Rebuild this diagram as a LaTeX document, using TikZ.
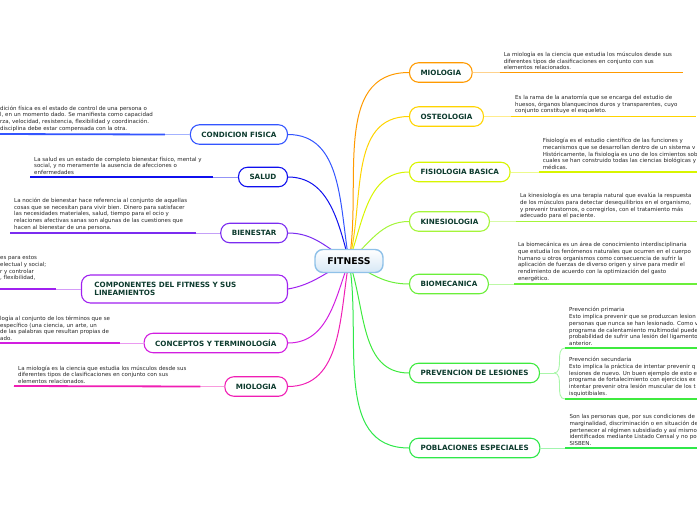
\documentclass[tikz,border=0pt]{standalone}
\usepackage{fontspec}
\setmainfont{DejaVu Sans}
\usetikzlibrary{backgrounds}
\definecolor{titlegreen}{HTML}{0D3B2E}
\definecolor{txtgrey}{HTML}{262626}
\definecolor{fitborder}{HTML}{8FC1E8}
\definecolor{fitfill}{HTML}{D6E7F5}
\definecolor{cfc}{HTML}{3355FF}
\definecolor{salc}{HTML}{1010EE}
\definecolor{bienc}{HTML}{7B2CF0}
\definecolor{compc}{HTML}{A020F0}
\definecolor{concc}{HTML}{D21EE0}
\definecolor{miolc}{HTML}{F01EB4}
\definecolor{mrc}{HTML}{FF9A00}
\definecolor{ostc}{HTML}{FFD400}
\definecolor{fisc}{HTML}{D8F500}
\definecolor{kinc}{HTML}{A5F53A}
\definecolor{bioc}{HTML}{6BEF3A}
\definecolor{prevc}{HTML}{3FEA3F}
\definecolor{pobc}{HTML}{2FE84A}

\begin{document}
\begin{tikzpicture}[x=1pt, y=-1pt,
  box/.style={draw=#1, line width=1.1pt, fill=white, rounded corners=9pt,
    minimum height=19.5pt, inner xsep=11pt, inner ysep=3pt,
    text=titlegreen, font=\bfseries\fontsize{7.2}{8.6}\selectfont},
  desc/.style={anchor=south west, align=left, inner xsep=4pt, inner ysep=2.3pt,
    text=txtgrey, font=\fontsize{5.5}{6.7}\selectfont},
  ul/.style={draw=#1, line width=1.8pt},
  lnk/.style={draw=#1!45, line width=0.9pt},
  br/.style={draw=#1, line width=1pt}]
  \useasboundingbox (0,0) rectangle (697,520);

  % centre
  \node[draw=fitborder, line width=1.4pt, rounded corners=8pt, top color=white,
    bottom color=fitfill, minimum width=68pt, minimum height=23pt,
    font=\bfseries\fontsize{9.3}{11}\selectfont] (fit) at (349,261) {FITNESS};

  % left branches
  \node[box=cfc, anchor=east] (cf) at (288,134.5) {CONDICION FISICA};
  \node[box=salc, anchor=east] (sal) at (288,177) {SALUD};
  \node[box=bienc, anchor=east] (bien) at (288,233) {BIENESTAR};
  \node[box=compc, anchor=east, align=left, text width=180pt, inner xsep=13pt,
    minimum height=28pt] (comp) at (288,289) {COMPONENTES DEL FITNESS Y SUS\\LINEAMIENTOS};
  \node[box=concc, anchor=east] (conc) at (288,343) {CONCEPTOS Y TERMINOLOGÍA};
  \node[box=miolc, anchor=east] (miol) at (288,386.5) {MIOLOGIA};

  % right branches
  \node[box=mrc, anchor=west] (mr) at (409,72.5) {MIOLOGIA};
  \node[box=ostc, anchor=west] (ost) at (409,116.5) {OSTEOLOGIA};
  \node[box=fisc, anchor=west] (fis) at (409,172) {FISIOLOGIA BASICA};
  \node[box=kinc, anchor=west] (kin) at (409,221.5) {KINESIOLOGIA};
  \node[box=bioc, anchor=west] (bio) at (409,284) {BIOMECANICA};
  \node[box=prevc, anchor=west] (prev) at (409,373) {PREVENCION DE LESIONES};
  \node[box=pobc, anchor=west] (pob) at (409,448) {POBLACIONES ESPECIALES};

  % curves from the centre
  \begin{scope}[on background layer]
    \draw[br=cfc]   (fit.center) to[out=100,in=0] (cf.east);
    \draw[br=salc]  (fit.center) to[out=105,in=0] (sal.east);
    \draw[br=bienc] (fit.center) to[out=150,in=0] (bien.east);
    \draw[br=compc] (fit.center) to[out=205,in=10] (comp.east);
    \draw[br=concc] (fit.center) to[out=250,in=0] (conc.east);
    \draw[br=miolc] (fit.center) to[out=260,in=0] (miol.east);
    \draw[br=mrc]   (fit.center) to[out=80,in=180] (mr.west);
    \draw[br=ostc]  (fit.center) to[out=75,in=180] (ost.west);
    \draw[br=fisc]  (fit.center) to[out=70,in=180] (fis.west);
    \draw[br=kinc]  (fit.center) to[out=40,in=180] (kin.west);
    \draw[br=bioc]  (fit.center) to[out=-30,in=180] (bio.west);
    \draw[br=prevc] (fit.center) to[out=-70,in=180] (prev.west);
    \draw[br=pobc]  (fit.center) to[out=-80,in=180] (pob.west);
  \end{scope}

  % left texts
  \draw[lnk=cfc] (cf.west) -- ++(-25,0) coordinate (cfe);
  \node[desc] (dcf) at (-4,134) {dición física es el estado de control de una persona o\\
    l, en un momento dado. Se manifiesta como capacidad\\
    rza, velocidad, resistencia, flexibilidad y coordinación.\\
    disciplina debe estar compensada con la otra.};
  \draw[ul=cfc] (cfe) -- (dcf.south west);

  \draw[lnk=salc] (sal.west) -- ++(-25,0) coordinate (sale);
  \node[desc] (dsal) at (30,177) {La salud es un estado de completo bienestar físico, mental y\\
    social, y no meramente la ausencia de afecciones o\\
    enfermedades};
  \draw[ul=salc] (sale) -- (dsal.south west);

  \draw[lnk=bienc] (bien.west) -- ++(-24,0) coordinate (biene);
  \node[desc] (dbien) at (10,233) {La noción de bienestar hace referencia al conjunto de aquellas\\
    cosas que se necesitan para vivir bien. Dinero para satisfacer\\
    las necesidades materiales, salud, tiempo para el ocio y\\
    relaciones afectivas sanas son algunas de las cuestiones que\\
    hacen al bienestar de una persona.};
  \draw[ul=bienc] (biene) -- (dbien.south west);

  \draw[lnk=compc] (comp.west) -- ++(-25,0) coordinate (compe);
  \node[desc] (dcomp) at (-4,283) {es para estos\\
    electual y social;\\
    r y controlar\\
    , flexibilidad,};
  \draw[ul=compc] (compe) -- ++(-61,0);

  \draw[lnk=concc] (conc.west) -- ++(-24,0) coordinate (conce);
  \node[desc] (dconc) at (-4,343) {logía al conjunto de los términos que se\\
    específico (una ciencia, un arte, un\\
    de las palabras que resultan propias de\\
    ado.};
  \draw[ul=concc] (conce) -- (dconc.south west);

  \draw[lnk=miolc] (miol.west) -- ++(-24,0) coordinate (miole);
  \node[desc] (dmiol) at (14,386) {La miología es la ciencia que estudia los músculos desde sus\\
    diferentes tipos de clasificaciones en conjunto con sus\\
    elementos relacionados.};
  \draw[ul=miolc] (miole) -- (dmiol.south west);

  % right texts
  \draw[lnk=mrc] (mr.east) -- ++(27,0) coordinate (mre);
  \node[desc] (dmr) at (mre) {La miología es la ciencia que estudia los músculos desde sus\\
    diferentes tipos de clasificaciones en conjunto con sus\\
    elementos relacionados.};
  \draw[ul=mrc] (dmr.south west) -- ++(183,0);

  \draw[lnk=ostc] (ost.east) -- ++(27,0) coordinate (oste);
  \node[desc] (dost) at (oste) {Es la rama de la anatomía que se encarga del estudio de\\
    huesos, órganos blanquecinos duros y transparentes, cuyo\\
    conjunto constituye el esqueleto.};
  \draw[ul=ostc] (dost.south west) -- ++(185,0);

  \draw[lnk=fisc] (fis.east) -- ++(28,0) coordinate (fise);
  \node[desc] (dfis) at (fise) {Fisiología es el estudio científico de las funciones y\\
    mecanismos que se desarrollan dentro de un sistema v\\
    Históricamente, la fisiología es uno de los cimientos sob\\
    cuales se han construido todas las ciencias biológicas y\\
    médicas.};
  \draw[ul=fisc] (dfis.south west) -- ++(200,0);

  \draw[lnk=kinc] (kin.east) -- ++(26,0) coordinate (kine);
  \node[desc] (dkin) at (kine) {La kinesiología es una terapia natural que evalúa la respuesta\\
    de los músculos para detectar desequilibrios en el organismo,\\
    y prevenir trastornos, o corregirlos, con el tratamiento más\\
    adecuado para el paciente.};
  \draw[ul=kinc] (dkin.south west) -- ++(200,0);

  \draw[lnk=bioc] (bio.east) -- ++(25,0) coordinate (bioe);
  \node[desc] (dbio) at (bioe) {La biomecánica es un área de conocimiento interdisciplinaria\\
    que estudia los fenómenos naturales que ocurren en el cuerpo\\
    humano u otros organismos como consecuencia de sufrir la\\
    aplicación de fuerzas de diverso origen y sirve para medir el\\
    rendimiento de acuerdo con la optimización del gasto\\
    energético.};
  \draw[ul=bioc] (dbio.south west) -- ++(200,0);

  \draw[lnk=prevc] (prev.east) -- ++(14,0) coordinate (pj);
  \coordinate (pe1) at (565,348);
  \coordinate (pe2) at (565,399);
  \draw[lnk=prevc] (pj) to[out=0,in=180] (pe1);
  \draw[lnk=prevc] (pj) to[out=0,in=180] (pe2);
  \node[desc] (dpv1) at (pe1) {Prevención primaria\\
    Esto implica prevenir que se produzcan lesion\\
    personas que nunca se han lesionado. Como v\\
    programa de calentamiento multimodal puede\\
    probabilidad de sufrir una lesión del ligamento\\
    anterior.};
  \draw[ul=prevc] (dpv1.south west) -- ++(200,0);
  \node[desc] (dpv2) at (pe2) {Prevención secundaria\\
    Esto implica la práctica de intentar prevenir q\\
    lesiones de nuevo. Un buen ejemplo de esto e\\
    programa de fortalecimiento con ejercicios ex\\
    intentar prevenir otra lesión muscular de los t\\
    isquiotibiales.};
  \draw[ul=prevc] (dpv2.south west) -- ++(200,0);

  \draw[lnk=pobc] (pob.east) -- ++(25,0) coordinate (pobe);
  \node[desc] (dpob) at (pobe) {Son las personas que, por sus condiciones de\\
    marginalidad, discriminación o en situación de\\
    pertenecer al régimen subsidiado y así mismo\\
    identificados mediante Listado Censal y no po\\
    SISBEN.};
  \draw[ul=pobc] (dpob.south west) -- ++(200,0);
\end{tikzpicture}
\end{document}
